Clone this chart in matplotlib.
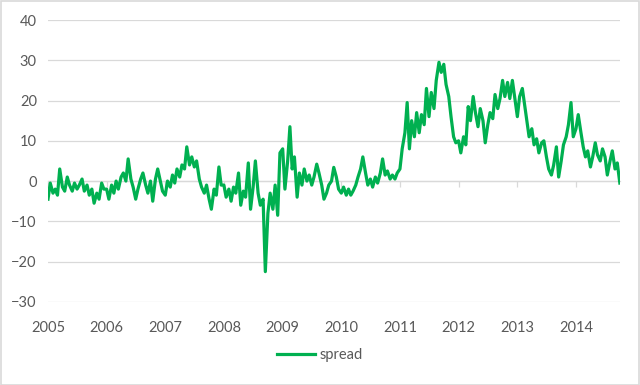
import numpy as np
import pandas as pd
import matplotlib
matplotlib.use("Agg")
import matplotlib.pyplot as plt
import matplotlib.dates as mdates
from matplotlib.patches import Rectangle

# ----- data: spread, two points per month -----
spread_2005 = [-4.5, -0.5, -3.0, -2.0, -3.5, 3.0, -1.5, -2.5, 1.0, -1.0, -2.5, -0.5,
               -2.0, -1.0, 0.5, -2.5, -1.0, -3.5, -2.0, -5.5, -3.0, -4.5, -0.5, -2.0]
spread_2006 = [-2.0, -4.5, -1.0, -3.0, 0.0, -2.0, 1.0, 2.0, 0.0, 5.5, 0.5, -1.5,
               -4.5, -2.0, 0.5, 2.0, -1.0, -3.0, 0.0, -5.0, 0.5, 3.0, 0.0, -2.5]
spread_2007 = [-3.5, 0.0, -1.5, 1.5, -0.5, 3.0, 1.0, 4.0, 3.0, 8.5, 4.0, 6.0,
               3.5, 5.0, 0.5, -1.5, -3.0, -1.0, -4.5, -7.0, -2.0, -3.5, 3.5, -1.0]
spread_2008 = [-1.0, -4.0, -2.0, -5.0, -1.5, -3.0, 2.0, -6.0, -2.5, -4.0, 4.5, -7.0,
               -1.5, 5.0, -3.0, -6.0, -4.5, -22.5, -8.0, -3.0, -7.0, -1.0, -8.5, 7.0]
spread_2009 = [8.0, -2.0, 5.0, 13.5, 3.0, 6.0, -4.0, 2.0, -1.0, 3.0, 0.0, 1.5,
               -1.0, 1.0, 4.2, 2.0, -1.0, -4.5, -3.0, -1.0, 0.0, 3.4, 1.0, -2.0]
spread_2010 = [-3.0, -1.5, -3.5, -2.0, -3.5, -2.5, -1.0, 1.0, 3.0, 6.0, 2.0, -1.0,
               0.5, -1.5, 1.0, -0.5, 2.0, 5.5, 1.5, 2.5, 0.5, 1.5, 0.5, 2.0]
spread_2011 = [3.0, 8.0, 12.0, 19.5, 8.0, 15.0, 11.0, 17.0, 12.0, 16.5, 14.0, 23.0,
               16.0, 22.0, 18.0, 25.0, 29.5, 27.0, 29.0, 24.0, 21.0, 16.0, 11.0, 9.5]
spread_2012 = [10.0, 7.0, 11.0, 9.0, 18.5, 15.0, 21.0, 17.0, 13.5, 18.0, 15.0, 9.5,
               14.0, 17.0, 15.5, 21.5, 18.0, 20.5, 25.0, 21.0, 24.5, 20.5, 25.0, 21.0]
spread_2013 = [16.0, 21.0, 23.0, 19.0, 15.0, 11.0, 13.0, 9.0, 10.5, 7.0, 9.5, 10.0,
               6.0, 3.0, 1.5, 4.0, 8.5, 1.0, 5.0, 9.0, 11.0, 14.0, 19.5, 11.0]
spread_2014 = [13.0, 16.5, 12.0, 8.5, 6.0, 7.5, 3.5, 6.0, 9.5, 6.5, 5.0, 8.0,
               6.0, 1.5, 5.0, 7.5, 3.0, 4.5, -0.5]

spread = (spread_2005 + spread_2006 + spread_2007 + spread_2008 + spread_2009
          + spread_2010 + spread_2011 + spread_2012 + spread_2013 + spread_2014)
dates = pd.date_range("2005-01-01", periods=len(spread), freq="SMS")
years = list(range(2005, 2015))

GREEN = "#00B050"
GRID = "#D9D9D9"
TXT = "#595959"

plt.rcParams['font.family'] = ['Lato', 'DejaVu Sans']

fig = plt.figure(figsize=(6.4, 3.85), dpi=100)
ax = fig.add_axes([0.075, 0.216, 0.894, 0.732])

ax.plot(dates, spread, color=GREEN, lw=2.3, label="spread", solid_joinstyle="round")

ax.set_ylim(-30, 40)
ax.set_yticks(range(-30, 41, 10))
ax.set_xlim(pd.Timestamp("2005-01-01"), pd.Timestamp("2014-10-03"))
year_ticks = [pd.Timestamp(f"{y}-01-01") for y in years]
ax.set_xticks(year_ticks)
ax.set_xticklabels([str(y) for y in years])
ax.grid(axis="y", color=GRID, lw=0.9)
ax.set_axisbelow(True)
for s in ax.spines.values():
    s.set_visible(False)
ax.tick_params(axis="both", length=0, colors=TXT, labelsize=10.5)
ax.tick_params(axis="x", pad=14)
ax.tick_params(axis="y", pad=8)

# horizontal axis line crossing at zero, with small tick marks
sec = ax.secondary_xaxis(30 / 70)
sec.set_xticks(year_ticks)
sec.set_xticklabels([])
sec.tick_params(axis="x", length=4, color=GRID, width=0.9, direction="out")
sec.spines["bottom"].set_color(GRID)
sec.spines["bottom"].set_linewidth(0.9)

fig.legend(loc="lower center", bbox_to_anchor=(0.5, 0.025), frameon=False,
           handlelength=2.6, handletextpad=0.3, fontsize=10.5, labelcolor=TXT)

fig.patches.append(Rectangle((0.001, 0.001), 0.997, 0.996, transform=fig.transFigure,
                             fill=False, edgecolor=GRID, lw=1.2))

fig.savefig("out.png", dpi=100, facecolor="white")
